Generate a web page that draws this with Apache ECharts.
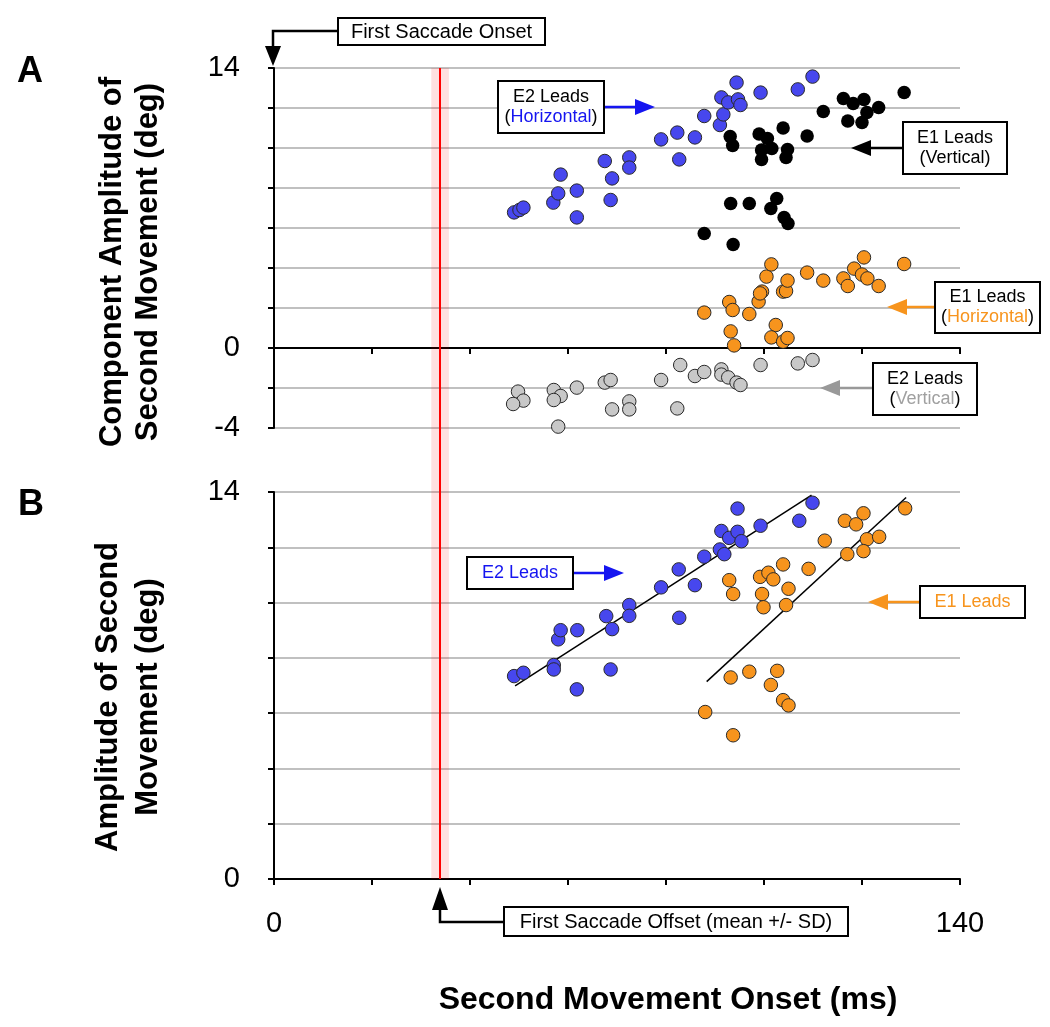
<!DOCTYPE html>
<html><head><meta charset="utf-8">
<script src="https://cdn.jsdelivr.net/npm/echarts@6/dist/echarts.min.js"></script>
<style>html,body{margin:0;padding:0;background:#fff}#c{width:1050px;height:1027px}</style>
</head><body><div id="c"></div>
<script>
// ---- tick labels ----
const xTickLabels = [0, 140];
const yTickLabelsA = [14, 0, -4];
const yTickLabelsB = [14, 0];

// ---- first saccade offset (ms) ----
const saccadeOffsetMean = 33.9;
const saccadeOffsetSD = 1.8;

// ---- Panel A: component amplitudes [onset ms, deg] ----
const e2HorizontalA = [[49.0,6.78],[50.1,6.90],[50.9,7.02],[57.0,7.27],[58.0,7.73],[58.5,8.67],[61.8,7.87],[61.8,6.53],[67.5,9.35],[69.0,8.48],[68.7,7.40],[72.5,9.53],[72.5,9.02],[79.0,10.43],[82.3,10.77],[82.7,9.43],[85.9,10.53],[87.8,11.60],[91.0,11.15],[91.7,11.68],[91.3,12.53],[92.7,12.28],[94.4,13.27],[94.7,12.43],[95.2,12.15],[99.3,12.77],[106.9,12.93],[109.9,13.57]];
const e2VerticalA = [[49.8,-2.18],[50.9,-2.63],[48.8,-2.80],[57.1,-2.10],[58.5,-2.40],[57.1,-2.60],[61.8,-1.98],[58.0,-3.93],[61.8,-4.35],[67.5,-1.73],[68.7,-1.60],[69.0,-3.07],[72.5,-2.67],[72.5,-3.07],[79.0,-1.60],[82.9,-0.85],[82.3,-3.02],[85.9,-1.40],[87.8,-1.20],[91.3,-1.07],[91.3,-1.33],[92.7,-1.47],[94.4,-1.73],[95.2,-1.85],[91.0,-4.13],[99.3,-0.85],[106.9,-0.77],[109.9,-0.60]];
const e1VerticalA = [[93.1,10.57],[93.6,10.12],[99.0,10.70],[100.7,10.47],[101.6,9.98],[99.5,9.90],[99.5,9.43],[103.9,11.00],[104.8,9.93],[104.5,9.52],[108.8,10.60],[112.1,11.82],[116.2,12.47],[118.2,12.23],[120.4,12.43],[121.0,11.77],[117.1,11.35],[120.0,11.28],[123.4,12.02],[128.6,12.77],[93.2,7.23],[97.0,7.23],[102.6,7.48],[101.4,6.98],[104.1,6.52],[104.9,6.23],[87.8,5.73],[93.7,5.18]];
const e1HorizontalA = [[87.8,1.77],[92.9,2.30],[93.6,1.90],[93.2,0.83],[93.9,0.13],[97.0,1.70],[98.9,2.32],[99.6,2.82],[99.2,2.73],[100.5,3.57],[101.5,4.18],[102.4,1.15],[101.5,0.53],[103.9,0.32],[104.8,0.50],[103.9,2.82],[104.5,2.85],[104.8,3.37],[108.8,3.77],[112.1,3.37],[116.2,3.48],[117.1,3.10],[118.4,3.97],[120.4,4.53],[120.0,3.67],[121.1,3.48],[123.4,3.10],[128.6,4.20]];

// ---- Panel B: amplitude of second movement [onset ms, deg] ----
const e2AmplitudeB = [[49.0,7.34],[50.9,7.46],[57.1,7.74],[57.1,7.58],[58.0,8.67],[58.5,9.00],[61.9,9.00],[61.8,6.86],[67.8,9.51],[69.0,9.04],[68.7,7.58],[72.5,9.91],[72.5,9.52],[79.0,10.55],[82.6,11.20],[82.7,9.45],[85.9,10.63],[87.8,11.66],[91.0,11.92],[91.9,11.75],[91.3,12.59],[92.9,12.34],[94.6,13.40],[94.6,12.56],[95.4,12.22],[99.3,12.78],[107.2,12.96],[109.9,13.61]];
const e1AmplitudeB = [[92.9,10.81],[93.7,10.31],[99.2,10.93],[100.9,11.08],[101.9,10.84],[103.9,11.38],[105.0,10.50],[99.6,10.31],[99.9,9.83],[104.5,9.91],[109.1,11.22],[112.4,12.24],[116.5,12.96],[118.8,12.83],[120.3,13.23],[121.0,12.29],[117.0,11.75],[120.3,11.86],[123.5,12.38],[128.8,13.41],[93.2,7.29],[97.0,7.50],[102.7,7.53],[101.4,7.02],[103.9,6.47],[105.0,6.28],[88.0,6.04],[93.7,5.20]];

// ---- regression line end points ----
const e2FitLine = [[49.2,6.99],[109.7,13.89]];
const e1FitLine = [[88.3,7.14],[129.0,13.80]];

const FONT = 'Liberation Sans, Arial, Helvetica, sans-serif';
const BLUE = '#4747ee', ORANGE = '#f7941d', GRAY = '#c8c8c8';
const GRID_COLOR = '#c0c0c0';

function xAxisCfg(gi, showLabels) {
  return {
    type: 'value', gridIndex: gi, min: 0, max: 140, interval: 20,
    axisLine: { show: true, onZero: true, lineStyle: { color: '#000', width: 2 } },
    axisTick: { show: true, length: 6, lineStyle: { color: '#000', width: 2 } },
    splitLine: { show: false },
    axisLabel: {
      show: showLabels, margin: 30, fontFamily: FONT, fontSize: 29, color: '#000',
      formatter: v => xTickLabels.includes(v) ? String(v) : ''
    }
  };
}
function yAxisCfg(gi, min, labels) {
  return {
    type: 'value', gridIndex: gi, min: min, max: 14, interval: 2,
    axisLine: { show: true, onZero: false, lineStyle: { color: '#000', width: 2 } },
    axisTick: { show: true, length: 6, lineStyle: { color: '#000', width: 2 } },
    splitLine: { show: true, lineStyle: { color: GRID_COLOR, width: 2 } },
    axisLabel: {
      margin: 34, fontFamily: FONT, fontSize: 29, color: '#000',
      formatter: v => labels.includes(v) ? String(v) : ''
    }
  };
}
function scatter(data, xi, color, border) {
  return {
    type: 'scatter', xAxisIndex: xi, yAxisIndex: xi, data: data, symbolSize: 13.5, z: 5,
    itemStyle: { color: color, borderColor: border ? '#2a2a2a' : color, borderWidth: border ? 1 : 0, opacity: 1 }
  };
}

// ---- annotation helpers (graphic) ----
function box(x, y, w, h) {
  return { type: 'rect', shape: { x, y, width: w, height: h }, style: { fill: '#fff', stroke: '#000', lineWidth: 2 }, z: 100 };
}
function label(x, y, text, size, rich, fill) {
  return { type: 'text', x, y, z: 101, style: { text, fontFamily: FONT, fontSize: size, fill: fill || '#000', align: 'center', verticalAlign: 'middle', lineHeight: 20, rich: rich || {} } };
}
function arrowLeft(x1, x2, y, color) { // from x1 (box) to tip x2 (left)
  return [
    { type: 'polyline', shape: { points: [[x1, y], [x2 + 18, y]] }, style: { stroke: color, lineWidth: 2.5, fill: null }, z: 100 },
    { type: 'polygon', shape: { points: [[x2 + 20, y - 8], [x2 + 20, y + 8], [x2, y]] }, style: { fill: color }, z: 100 }
  ];
}
function arrowRight(x1, x2, y, color) {
  return [
    { type: 'polyline', shape: { points: [[x1, y], [x2 - 18, y]] }, style: { stroke: color, lineWidth: 2.5, fill: null }, z: 100 },
    { type: 'polygon', shape: { points: [[x2 - 20, y - 8], [x2 - 20, y + 8], [x2, y]] }, style: { fill: color }, z: 100 }
  ];
}

const graphics = [
  { type: 'text', x: 30, y: 72, style: { text: 'A', fontFamily: FONT, fontWeight: 'bold', fontSize: 36, fill: '#000', align: 'center', verticalAlign: 'middle' } },
  { type: 'text', x: 31, y: 505, style: { text: 'B', fontFamily: FONT, fontWeight: 'bold', fontSize: 36, fill: '#000', align: 'center', verticalAlign: 'middle' } },
  { type: 'text', x: 130, y: 262, rotation: Math.PI / 2, style: { text: 'Component Amplitude of\nSecond Movement (deg)', fontFamily: FONT, fontWeight: 'bold', fontSize: 31, lineHeight: 36, fill: '#000', align: 'center', verticalAlign: 'middle' } },
  { type: 'text', x: 128, y: 697, rotation: Math.PI / 2, style: { text: 'Amplitude of Second\nMovement (deg)', fontFamily: FONT, fontWeight: 'bold', fontSize: 31, lineHeight: 40, fill: '#000', align: 'center', verticalAlign: 'middle' } },
  { type: 'text', x: 668, y: 1000, style: { text: 'Second Movement Onset (ms)', fontFamily: FONT, fontWeight: 'bold', fontSize: 32, fill: '#000', align: 'center', verticalAlign: 'middle' } },

  // First Saccade Onset
  { type: 'polyline', shape: { points: [[338, 31], [273, 31], [273, 48]] }, style: { stroke: '#000', lineWidth: 2.5, fill: null }, z: 100 },
  { type: 'polygon', shape: { points: [[265, 46], [281, 46], [273, 66]] }, style: { fill: '#000' }, z: 100 },
  box(338, 18, 207, 27), label(441.5, 32, 'First Saccade Onset', 20),

  // E2 Leads (Horizontal)
  ...arrowRight(604, 655, 107, '#1515f0'),
  box(498, 81, 106, 52),
  label(551, 107, 'E2 Leads\n({b|Horizontal})', 18, { b: { fill: '#1515f0', fontFamily: FONT, fontSize: 18 } }),

  // E1 Leads (Vertical)
  ...arrowLeft(903, 851, 148, '#000'),
  box(903, 122, 104, 52), label(955, 148, 'E1 Leads\n(Vertical)', 18),

  // E1 Leads (Horizontal)
  ...arrowLeft(935, 887, 307, ORANGE),
  box(935, 282, 105, 51),
  label(987.5, 307.5, 'E1 Leads\n({o|Horizontal})', 18, { o: { fill: ORANGE, fontFamily: FONT, fontSize: 18 } }),

  // E2 Leads (Vertical)
  ...arrowLeft(873, 820, 388, '#999999'),
  box(873, 363, 104, 52),
  label(925, 389, 'E2 Leads\n({g|(Vertical})', 18, { g: { fill: '#a0a0a0', fontFamily: FONT, fontSize: 18 } }),

  // Panel B E2 Leads
  ...arrowRight(573, 624, 573, '#1515f0'),
  box(467, 557, 106, 32), label(520, 573, 'E2 Leads', 18, null, '#1515f0'),

  // Panel B E1 Leads
  ...arrowLeft(920, 868, 602, ORANGE),
  box(920, 586, 105, 32), label(972.5, 602, 'E1 Leads', 18, null, ORANGE),

  // First Saccade Offset
  { type: 'polyline', shape: { points: [[504, 922], [440, 922], [440, 908]] }, style: { stroke: '#000', lineWidth: 2.5, fill: null }, z: 100 },
  { type: 'polygon', shape: { points: [[432, 910], [448, 910], [440, 887]] }, style: { fill: '#000' }, z: 100 },
  box(504, 907, 344, 29), label(676, 922, 'First Saccade Offset (mean +/- SD)', 20)
];
// fix E2 vertical label: parentheses dark, word gray
graphics.forEach(g => { if (g.type === 'text' && g.style && g.style.text === 'E2 Leads\n({g|(Vertical})') g.style.text = 'E2 Leads\n({g|Vertical})'; });

const chart = echarts.init(document.getElementById('c'), null, { renderer: 'canvas' });
chart.setOption({
  animation: false,
  backgroundColor: '#fff',
  grid: [
    { left: 274, top: 68, width: 686, height: 360, outerBoundsMode: 'none' },
    { left: 274, top: 492, width: 686, height: 387, outerBoundsMode: 'none' },
    { left: 274, top: 68, width: 686, height: 811, outerBoundsMode: 'none' }
  ],
  xAxis: [
    xAxisCfg(0, false),
    xAxisCfg(1, true),
    { type: 'value', gridIndex: 2, min: 0, max: 140, show: false }
  ],
  yAxis: [
    yAxisCfg(0, -4, yTickLabelsA),
    yAxisCfg(1, 0, yTickLabelsB),
    { type: 'value', gridIndex: 2, min: 0, max: 1, show: false }
  ],
  series: [
    { type: 'scatter', xAxisIndex: 2, yAxisIndex: 2, data: [[saccadeOffsetMean, 0.5]], symbolSize: 0, z: -1, silent: true,
      markArea: { silent: true, itemStyle: { color: 'rgba(255,0,0,0.12)' },
        data: [[{ xAxis: saccadeOffsetMean - saccadeOffsetSD }, { xAxis: saccadeOffsetMean + saccadeOffsetSD }]] } },
    { type: 'scatter', xAxisIndex: 2, yAxisIndex: 2, data: [[saccadeOffsetMean, 0.5]], symbolSize: 0, z: 3, silent: true,
      markLine: { silent: true, symbol: 'none', label: { show: false }, lineStyle: { color: '#ff0000', width: 2, type: 'solid' },
        data: [{ xAxis: saccadeOffsetMean }] } },
    scatter(e2HorizontalA, 0, BLUE, true),
    scatter(e2VerticalA, 0, GRAY, true),
    scatter(e1VerticalA, 0, '#000', false),
    scatter(e1HorizontalA, 0, ORANGE, true),
    scatter(e2AmplitudeB, 1, BLUE, true),
    scatter(e1AmplitudeB, 1, ORANGE, true),
    { type: 'line', xAxisIndex: 1, yAxisIndex: 1, data: e2FitLine, symbol: 'none', z: 4, lineStyle: { color: '#000', width: 1.5 } },
    { type: 'line', xAxisIndex: 1, yAxisIndex: 1, data: e1FitLine, symbol: 'none', z: 4, lineStyle: { color: '#000', width: 1.5 } }
  ],
  graphic: graphics
});
</script>
</body></html>
